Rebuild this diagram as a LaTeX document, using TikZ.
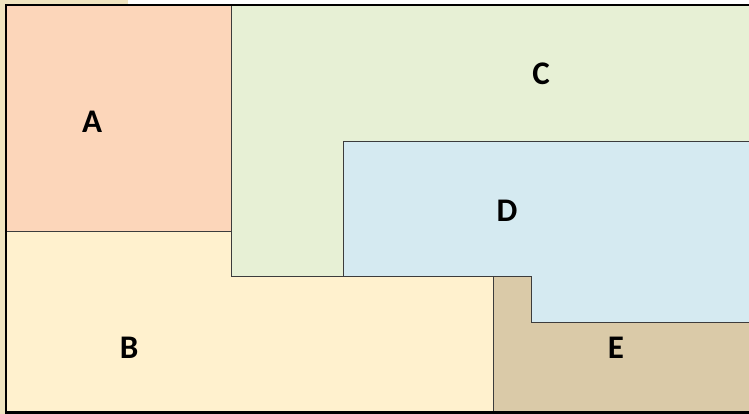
\documentclass[tikz,border=0pt]{standalone}
\usepackage{fontspec}
\setmainfont{Carlito}
\definecolor{margin}{RGB}{240,228,192}
\definecolor{colA}{RGB}{252,214,186}
\definecolor{colB}{RGB}{255,241,206}
\definecolor{colC}{RGB}{231,240,213}
\definecolor{colD}{RGB}{213,234,241}
\definecolor{colE}{RGB}{218,202,168}
\definecolor{edge}{RGB}{60,60,60}
\tikzset{
  zone/.style={draw=edge, line width=0.9pt, line join=miter},
  tag/.style={font=\fontsize{33}{38}\selectfont\bfseries, text=black}
}
\begin{document}
\begin{tikzpicture}[x=1pt,y=-1pt]
  \useasboundingbox (0,0) rectangle (749,414);
  % textured margin strips
  \fill[margin] (0,0) rectangle (128,6);
  \fill[margin] (0,0) rectangle (6,414);
  % zones
  \filldraw[zone, fill=colA] (6,5) rectangle (231,231);
  \filldraw[zone, fill=colC] (231,5) -- (749,5) -- (749,141) -- (343,141) -- (343,276) -- (231,276) -- cycle;
  \filldraw[zone, fill=colD] (343,141) -- (749,141) -- (749,322) -- (531,322) -- (531,276) -- (343,276) -- cycle;
  \filldraw[zone, fill=colB] (6,231) -- (231,231) -- (231,276) -- (493,276) -- (493,412) -- (6,412) -- cycle;
  \filldraw[zone, fill=colE] (493,276) -- (531,276) -- (531,322) -- (749,322) -- (749,412) -- (493,412) -- cycle;
  % outer frame
  \draw[black, line width=2.4pt] (750,5) -- (6,5) -- (6,412.5) -- (750,412.5);
  % labels
  \node[tag] (la) at (92,122) {A};
  \node[tag] (lb) at (129,348) {B};
  \node[tag] (lc) at (541,74) {C};
  \node[tag] (ld) at (507,211) {D};
  \node[tag] (le) at (616,348) {E};
\end{tikzpicture}
\end{document}
